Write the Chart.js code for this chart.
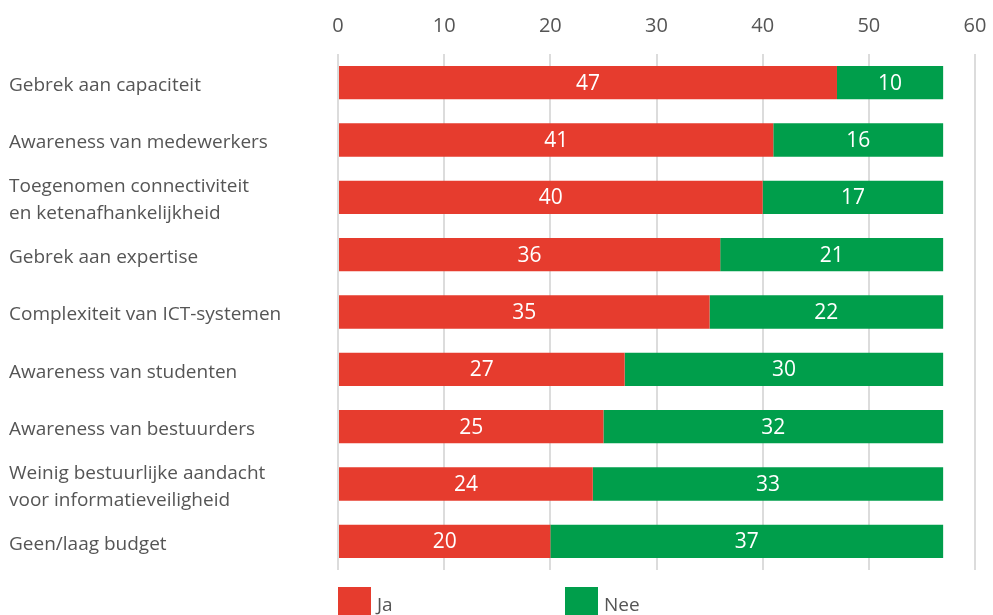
<!DOCTYPE html>
<html>
<head>
<meta charset="utf-8">
<script src="https://cdn.jsdelivr.net/npm/chart.js@4"></script>
<style>
  html, body { margin: 0; padding: 0; background: #fff; }
  #wrap { position: relative; width: 993px; height: 615px; }
  .legend { position: absolute; top: 587px; font: 19px "Open Sans", sans-serif; color: #555; display: flex; align-items: center; }
  .legend span.box { display: inline-block; width: 33px; height: 33px; margin-right: 6px; }
</style>
</head>
<body>
<div id="wrap">
  <canvas id="chart" width="993" height="615"></canvas>
  <div class="legend" style="left:338px"><span class="box" style="background:#e63c2e"></span>Ja</div>
  <div class="legend" style="left:565px"><span class="box" style="background:#009e4b"></span>Nee</div>
</div>
<script>
// Knelpunten informatieveiligheid: aantal Ja / Nee per onderwerp
const categories = [
    'Gebrek aan capaciteit',
    'Awareness van medewerkers',
    ['Toegenomen connectiviteit', 'en ketenafhankelijkheid'],
    'Gebrek aan expertise',
    'Complexiteit van ICT-systemen',
    'Awareness van studenten',
    'Awareness van bestuurders',
    ['Weinig bestuurlijke aandacht', 'voor informatieveiligheid'],
    'Geen/laag budget'
];
const jaValues = [47, 41, 40, 36, 35, 27, 25, 24, 20];
const neeValues = [10, 16, 17, 21, 22, 30, 32, 33, 37];
const xTicks = [0, 10, 20, 30, 40, 50, 60];

const RED = '#e63c2e';
const GREEN = '#009e4b';
const FONT = '"Open Sans", sans-serif';

// white value labels centred in each bar segment
const barValueLabels = {
    id: 'barValueLabels',
    afterDatasetsDraw(chart) {
        const ctx = chart.ctx;
        ctx.save();
        ctx.fillStyle = '#fff';
        ctx.font = '21px ' + FONT;
        ctx.textAlign = 'center';
        ctx.textBaseline = 'middle';
        chart.data.datasets.forEach((ds, i) => {
            chart.getDatasetMeta(i).data.forEach((bar, j) => {
                const p = bar.getProps(['x', 'y', 'base'], true);
                ctx.fillText(String(ds.data[j]), (p.x + p.base) / 2, p.y + 1);
            });
        });
        ctx.restore();
    }
};

new Chart(document.getElementById('chart'), {
    type: 'bar',
    data: {
        labels: categories,
        datasets: [
            { label: 'Ja', data: jaValues, backgroundColor: RED, barPercentage: 0.58, categoryPercentage: 1 },
            { label: 'Nee', data: neeValues, backgroundColor: GREEN, barPercentage: 0.58, categoryPercentage: 1 }
        ]
    },
    options: {
        indexAxis: 'y',
        responsive: false,
        animation: false,
        layout: { padding: { left: 9, right: 18, top: 0, bottom: 45 } },
        plugins: { legend: { display: false }, tooltip: { enabled: false } },
        scales: {
            x: {
                position: 'top',
                stacked: true,
                min: 0,
                max: 60,
                afterBuildTicks: (scale) => { scale.ticks = xTicks.map(v => ({ value: v })); },
                afterFit: (scale) => {
                    scale.height = 54;
                    scale.paddingLeft = 0;
                    scale.paddingRight = 0;
                },
                grid: { color: '#dcdcdc', lineWidth: 2, drawTicks: false },
                border: { display: false },
                ticks: { color: '#555', font: { family: FONT, size: 20 }, padding: 16 }
            },
            y: {
                stacked: true,
                afterFit: (scale) => { scale.width = 329; },
                grid: { display: false },
                border: { display: false },
                ticks: {
                    color: '#555',
                    crossAlign: 'far',
                    labelOffset: 3,
                    font: { family: FONT, size: 19, lineHeight: 1.4 }
                }
            }
        }
    },
    plugins: [barValueLabels]
});
</script>
</body>
</html>
